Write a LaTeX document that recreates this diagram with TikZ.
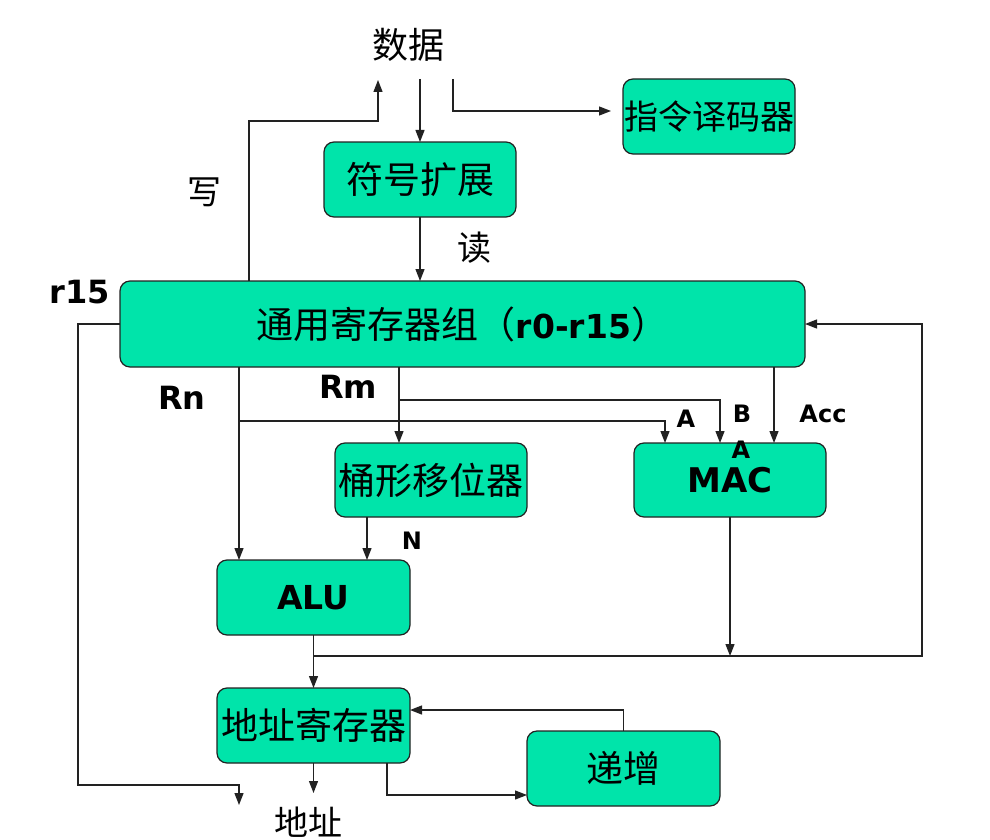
\documentclass[tikz,border=0pt]{standalone}
\usepackage{fontspec}
\setmainfont{DejaVu Sans}
\newfontfamily\cjk{Noto Sans CJK SC}
\usetikzlibrary{arrows.meta}
\definecolor{boxgreen}{RGB}{0,228,170}
\definecolor{linegray}{RGB}{34,34,34}
\begin{document}
\begin{tikzpicture}[x=1pt,y=-1pt,
  blockbox/.style={draw=linegray, line width=1.2pt, fill=boxgreen, rounded corners=10pt,
    inner sep=0pt, outer sep=0pt, minimum width=#1, minimum height=75pt,
    font=\cjk\fontsize{37}{40}\selectfont},
  arr/.style={draw=linegray, line width=1.3pt, -{Triangle[length=12pt,width=9pt]}},
  cjklabel/.style={font=\cjk\fontsize{34}{38}\selectfont, inner sep=0pt},
  biglabel/.style={font=\bfseries\fontsize{32}{36}\selectfont, inner sep=0pt},
  smalllabel/.style={font=\bfseries\fontsize{24}{28}\selectfont, inner sep=0pt}
]
\useasboundingbox (0,0) rectangle (990,840);

% boxes
\node[blockbox=172pt, font=\cjk\fontsize{34}{38}\selectfont] (dec) at (709,116.5) {指令译码器};
\node[blockbox=192pt] (sign) at (420,179.5) {符号扩展};
\node[blockbox=685pt, minimum height=86pt] (reg) at (462.5,324)
  {通用寄存器组（{\rmfamily\bfseries\fontsize{33}{36}\selectfont r0-r15}）};
\node[blockbox=192pt, minimum height=74pt] (shift) at (431,480) {桶形移位器};
\node[blockbox=192pt, minimum height=74pt, font=\bfseries\fontsize{34}{38}\selectfont] (mac) at (730,480) {MAC};
\node[blockbox=193pt, font=\bfseries\fontsize{33}{38}\selectfont] (alu) at (313.5,597.5) {ALU};
\node[blockbox=193pt] (addr) at (313.5,725.5) {地址寄存器};
\node[blockbox=193pt] (inc) at (623.5,768.5) {递增};

% labels
\node[cjklabel, font=\cjk\fontsize{36}{40}\selectfont] (data) at (408,45) {数据};
\node[cjklabel] (write) at (204,192) {写};
\node[cjklabel] (read) at (474,248) {读};
\node[cjklabel] (addrlbl) at (308,822) {地址};
\node[biglabel] (r15) at (80,292) {r15};
\node[biglabel] (rn) at (182,398) {Rn};
\node[biglabel] (rm) at (348,387) {Rm};
\node[smalllabel] (la) at (686,419) {A};
\node[smalllabel] (lb) at (742,414) {B};
\node[smalllabel] (lacc) at (823,414) {Acc};
\node[smalllabel] (la2) at (741,450) {A};
\node[smalllabel] (ln) at (412,541) {N};

% helper coordinates
\coordinate (dataIn) at (378,80);
\coordinate (dataOut) at (420,79);
\coordinate (dataDec) at (453,79);
\coordinate (decIn) at (611,111);
\coordinate (wx) at (249,121);
\coordinate (r15turn) at (78,785);
\coordinate (addrOut) at (239,805);
\coordinate (rnx) at (239,421);
\coordinate (rmx) at (399,400);
\coordinate (macA) at (665,0);
\coordinate (macB) at (720,0);
\coordinate (accx) at (774,0);
\coordinate (nx) at (367,0);
\coordinate (bus) at (313.5,656);
\coordinate (busR) at (922,656);
\coordinate (addrTip) at (313.5,793);
\coordinate (incx) at (387,795);
\coordinate (fb) at (0,710);

% connectors
\draw[arr] (reg.north -| wx) -- (wx) -| (dataIn);
\draw[arr] (dataOut) -- (sign.north);
\draw[arr] (dataDec) |- (decIn);
\draw[arr] (sign.south) -- (sign.south |- reg.north);
\draw[arr] (reg.west) -| (r15turn) -| (addrOut);
\draw[arr] (reg.south -| rnx) -- (alu.north -| rnx);
\draw[arr] (rnx) -| (mac.north -| macA);
\draw[arr] (reg.south -| rmx) -- (shift.north -| rmx);
\draw[arr] (rmx) -| (mac.north -| macB);
\draw[arr] (reg.south -| accx) -- (mac.north -| accx);
\draw[arr] (shift.south -| nx) -- (alu.north -| nx);
\draw[arr] (alu.south) -- (addr.north);
\draw[arr] (bus) -- (busR) |- (reg.east);
\draw[arr] (mac.south) -- (mac.south |- bus);
\draw[arr] (addr.south) -- (addrTip);
\draw[arr] (addr.south -| incx) |- (inc.west |- incx);
\draw[arr] (inc.north) |- (addr.east |- fb);
\end{tikzpicture}
\end{document}
